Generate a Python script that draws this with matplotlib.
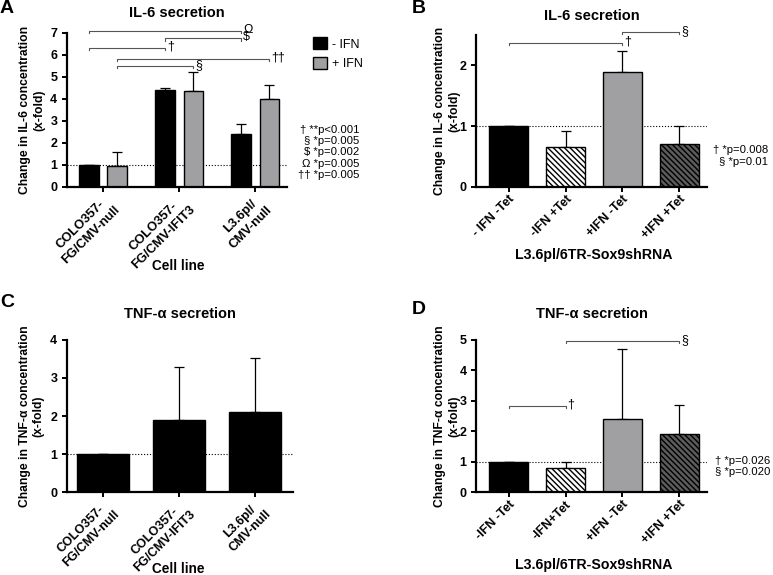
import matplotlib
matplotlib.use('Agg')
import matplotlib.pyplot as plt
from matplotlib.patches import Patch
import numpy as np

plt.rcParams['font.family'] = ['Liberation Sans', 'DejaVu Sans']
plt.rcParams['hatch.linewidth'] = 1.0

# panel A / C: cell lines
cell_lines = ['COLO357-\nFG/CMV-null', 'COLO357-\nFG/CMV-IFIT3', 'L3.6pl/\nCMV-null']
il6_minus_ifn = [1.0, 4.4, 2.4]
il6_minus_ifn_err = [0.0, 0.1, 0.45]
il6_plus_ifn = [0.95, 4.35, 4.0]
il6_plus_ifn_err = [0.65, 0.85, 0.65]
il6_a_notes = '† **p<0.001\n§ *p=0.005\n$ *p=0.002\nΩ *p=0.005\n†† *p=0.005'
# (series, group, series, group, height, label)
il6_a_sig = [('-', 0, '-', 2, 7.08, 'Ω'),
             ('-', 1, '-', 2, 6.74, '$'),
             ('-', 0, '-', 1, 6.32, '†'),
             ('+', 0, '+', 2, 5.81, '††'),
             ('+', 0, '+', 1, 5.48, '§')]

tnf_cell = [1.0, 1.9, 2.1]
tnf_cell_err = [0.0, 1.38, 1.42]

# panel B / D: Sox9 shRNA
b_labels = ['- IFN -Tet', '-IFN +Tet', '+IFN -Tet', '+IFN +Tet']
il6_sox9 = [1.0, 0.65, 1.9, 0.7]
il6_sox9_err = [0.0, 0.27, 0.33, 0.31]
il6_b_notes = '† *p=0.008\n§ *p=0.01'
il6_b_sig = [(0, 2, 2.37, '†'), (2, 3, 2.55, '§')]

d_labels = ['-IFN -Tet', '-IFN+Tet', '+IFN -Tet', '+IFN +Tet']
tnf_sox9 = [1.0, 0.8, 2.4, 1.9]
tnf_sox9_err = [0.0, 0.18, 2.3, 0.97]
tnf_d_notes = '† *p=0.026\n§ *p=0.020'
tnf_d_sig = [(0, 1, 2.83, '†'), (1, 3, 4.95, '§')]

GREY = '#a0a0a2'
DARK = '#5c5c5c'
sox9_face = ['black', 'white', GREY, DARK]
sox9_hatch = [None, '\\\\\\\\\\\\', None, '\\\\\\\\\\\\']


def style_axes(ax):
    for s in ['top', 'right']:
        ax.spines[s].set_visible(False)
    for s in ['left', 'bottom']:
        ax.spines[s].set_linewidth(1.6)
    ax.tick_params(width=1.4, length=3.5, labelsize=9)
    ax.tick_params(axis='x', pad=1)
    for lab in ax.get_yticklabels():
        lab.set_fontweight('bold')
    ax.axhline(1, ls=':', color='k', lw=0.8, zorder=1)


def set_xticklabels(ax, pos, labels, size, ls=1.3):
    ax.set_xticks(pos)
    ax.set_xticklabels(labels, rotation=45, ha='right', rotation_mode='anchor',
                       fontsize=size, fontweight='bold', multialignment='center',
                       linespacing=ls)


def bracket(ax, x1, x2, y, d, label):
    ax.plot([x1, x1, x2, x2], [y - d, y, y, y - d], color='#555555', lw=0.8,
            clip_on=False)
    ax.annotate(label, (x2, y), xytext=(1.5, 1), textcoords='offset points',
                ha='left', va='center', fontsize=9, annotation_clip=False)


def up_err(ax, x, y, err):
    ax.errorbar(x, y, yerr=[np.zeros(len(err)), err], fmt='none', ecolor='k',
                elinewidth=0.9, capsize=3.5, capthick=0.9, zorder=1)


fig = plt.figure(figsize=(7.73, 5.75), dpi=100)

# ---------- A ----------
axA = fig.add_axes([0.0867, 0.675, 0.2846, 0.268])
grp = np.arange(3)
off, w = 0.187, 0.257
xpos = {'-': grp - off, '+': grp + off}
up_err(axA, xpos['-'], il6_minus_ifn, il6_minus_ifn_err)
up_err(axA, xpos['+'], il6_plus_ifn, il6_plus_ifn_err)
axA.bar(xpos['-'], il6_minus_ifn, w, color='black', edgecolor='black', lw=1, zorder=2)
axA.bar(xpos['+'], il6_plus_ifn, w, color=GREY, edgecolor='black', lw=1, zorder=2)
axA.set_xlim(-0.474, 2.42)
axA.set_ylim(0, 7)
axA.set_yticks(range(8))
style_axes(axA)
set_xticklabels(axA, grp, cell_lines, 9.3)
for s1, g1, s2, g2, h, lab in il6_a_sig:
    bracket(axA, xpos[s1][g1], xpos[s2][g2], h, 0.1, lab)
axA.set_title('IL-6 secretion', fontsize=10.5, fontweight='bold', pad=11)
axA.set_ylabel('Change in IL-6 concentration\n(x-fold)', fontsize=8.7, fontweight='bold')
axA.yaxis.set_label_coords(-0.10, 0.5)
axA.set_xlabel('Cell line', fontsize=9.8, fontweight='bold', va='top')
axA.xaxis.set_label_coords(0.505, -0.465)
axA.legend(handles=[Patch(facecolor='black', edgecolor='black', label='- IFN'),
                    Patch(facecolor=GREY, edgecolor='black', label='+ IFN')],
           loc='upper left', bbox_to_anchor=(1.09, 1.01), frameon=False,
           fontsize=9, handlelength=1.1, handleheight=1.1, handletextpad=0.4,
           borderpad=0, labelspacing=0.5)
axA.text(1.33, 0.224, il6_a_notes, transform=axA.transAxes, ha='right', va='center',
         multialignment='right', fontsize=8.2, linespacing=1.15)

# ---------- B ----------
axB = fig.add_axes([0.616, 0.675, 0.299, 0.264])
xb = np.arange(4)
up_err(axB, xb, il6_sox9, il6_sox9_err)
axB.bar(xb, il6_sox9, 0.684, color=sox9_face, edgecolor='black', lw=1,
        hatch=sox9_hatch, zorder=2)
axB.set_xlim(-0.57, 3.49)
axB.set_ylim(0, 2.5)
axB.set_yticks([0, 1, 2])
style_axes(axB)
set_xticklabels(axB, xb, b_labels, 9)
for i1, i2, h, lab in il6_b_sig:
    bracket(axB, xb[i1], xb[i2], h, 0.035, lab)
axB.set_title('IL-6 secretion', fontsize=10.5, fontweight='bold', pad=11)
axB.set_ylabel('Change in IL-6 concentration\n(x-fold)', fontsize=8.7, fontweight='bold')
axB.yaxis.set_label_coords(-0.07, 0.5)
axB.set_xlabel('L3.6pl/6TR-Sox9shRNA', fontsize=10.2, fontweight='bold', va='top')
axB.xaxis.set_label_coords(0.51, -0.40)
axB.text(1.264, 0.204, il6_b_notes, transform=axB.transAxes, ha='right', va='center',
         multialignment='right', fontsize=8.2, linespacing=1.15)

# ---------- C ----------
axC = fig.add_axes([0.0867, 0.144, 0.2924, 0.265])
up_err(axC, grp, tnf_cell, tnf_cell_err)
axC.bar(grp, tnf_cell, 0.684, color='black', edgecolor='black', lw=1, zorder=2)
axC.set_xlim(-0.474, 2.5)
axC.set_ylim(0, 4)
axC.set_yticks(range(5))
style_axes(axC)
set_xticklabels(axC, grp, cell_lines, 9, ls=1.2)
axC.set_title('TNF-α secretion', fontsize=10.5, fontweight='bold', pad=16)
axC.set_ylabel('Change in TNF-α concentration\n(x-fold)', fontsize=8.7, fontweight='bold')
axC.yaxis.set_label_coords(-0.10, 0.5)
axC.set_xlabel('Cell line', fontsize=9.8, fontweight='bold', va='top')
axC.xaxis.set_label_coords(0.49, -0.46)

# ---------- D ----------
axD = fig.add_axes([0.616, 0.144, 0.299, 0.265])
up_err(axD, xb, tnf_sox9, tnf_sox9_err)
axD.bar(xb, tnf_sox9, 0.684, color=sox9_face, edgecolor='black', lw=1,
        hatch=sox9_hatch, zorder=2)
axD.set_xlim(-0.57, 3.49)
axD.set_ylim(0, 5)
axD.set_yticks(range(6))
style_axes(axD)
set_xticklabels(axD, xb, d_labels, 9)
for i1, i2, h, lab in tnf_d_sig:
    bracket(axD, xb[i1], xb[i2], h, 0.07, lab)
axD.set_title('TNF-α secretion', fontsize=10.5, fontweight='bold', pad=16)
axD.set_ylabel('Change in TNF-α concentration\n(x-fold)', fontsize=8.7, fontweight='bold')
axD.yaxis.set_label_coords(-0.07, 0.5)
axD.set_xlabel('L3.6pl/6TR-Sox9shRNA', fontsize=10.2, fontweight='bold', va='top')
axD.xaxis.set_label_coords(0.51, -0.43)
axD.text(1.035, 0.171, tnf_d_notes, transform=axD.transAxes, ha='left', va='center',
         multialignment='left', fontsize=8.2, linespacing=1.15)

# panel letters
for x, y, s in [(0.0, 1.0, 'A'), (0.533, 1.0, 'B'), (0.0, 0.488, 'C'), (0.533, 0.476, 'D')]:
    fig.text(x, y, s, fontsize=14, fontweight='bold', ha='left', va='top')

plt.savefig('out.png', dpi=100)
